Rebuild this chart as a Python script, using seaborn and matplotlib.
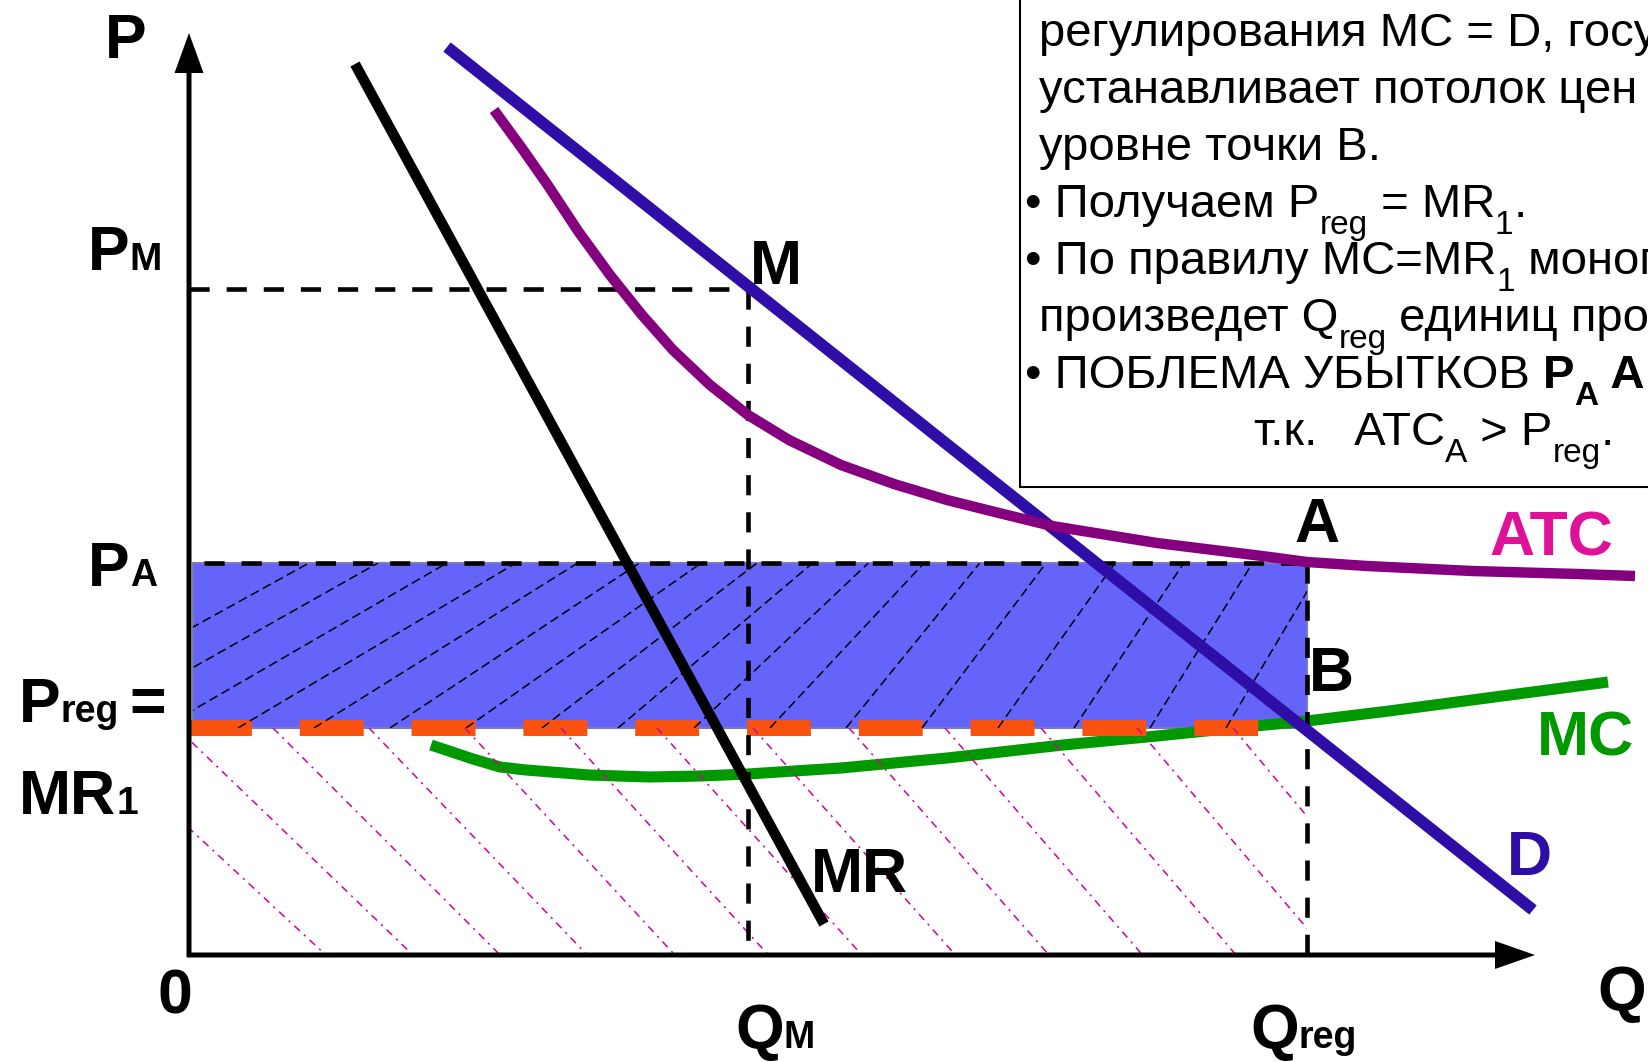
import numpy as np
import matplotlib
matplotlib.use('Agg')
import matplotlib.pyplot as plt
from matplotlib.patches import Rectangle
import seaborn as sns

# Регулирование естественной монополии: MC = D
# единицы графика: 1 = 100 px, начало координат в точке "0"
Q_M, Q_REG = 5.59, 11.18
P_M, P_A, P_REG = 6.66, 3.92, 2.27

D_q = [2.58, 13.44]
D_p = [9.08, 0.45]

MR_q = [1.66, 6.35]
MR_p = [8.91, 0.31]

ATC_q = [3.05, 3.32, 3.58, 3.89, 4.21, 4.53, 4.84, 5.21, 5.59, 6.00, 6.52, 7.05,
         7.58, 8.10, 8.63, 9.68, 10.73, 11.18, 11.78, 12.83, 13.89, 14.46]
ATC_p = [8.45, 8.08, 7.71, 7.24, 6.80, 6.40, 6.05, 5.70, 5.40, 5.15, 4.90, 4.71,
         4.55, 4.42, 4.29, 4.12, 3.99, 3.93, 3.89, 3.84, 3.81, 3.79]

MC_q = [2.42, 2.84, 3.11, 3.37, 4.00, 4.60, 5.11, 5.59, 6.52, 7.58, 8.74, 9.68,
        10.56, 11.18, 12.00, 12.83, 14.19]
MC_p = [2.10, 1.96, 1.88, 1.85, 1.80, 1.78, 1.79, 1.81, 1.87, 1.97, 2.10, 2.19,
        2.28, 2.34, 2.44, 2.55, 2.73]

C_D = '#2f0ea8'
C_ATC = '#84007e'
C_MC = '#009a00'
C_PINK = '#df1199'

sns.set_theme(style='white')
plt.rcParams['font.family'] = ['Liberation Sans', 'DejaVu Sans']

W, H = 1649, 1062
fig = plt.figure(figsize=(W / 100, H / 100), dpi=100)
ax = fig.add_axes([0, 0, 1, 1])
ax.set_xlim(-1.89, 14.60)
ax.set_ylim(-1.07, 9.55)
ax.axis('off')

# прямоугольник убытков
rect = Rectangle((0.04, P_REG), Q_REG - 0.04, P_A - P_REG, fc='#6464fa', ec='#7a7ac4', lw=1.5, zorder=1)
ax.add_patch(rect)
clip_top = Rectangle((0.04, P_REG), Q_REG - 0.04, P_A - P_REG, transform=ax.transData)
clip_low = Rectangle((0.0, 0.0), Q_REG, P_REG, transform=ax.transData)

# штриховка (наклон меняется по ширине, как на исходнике)
hb, hd = [-1.89, 0.49, 2.78, 6.71, 9.88, 11.11], [3.0, 2.78, 2.35, 1.30, 1.00, 0.95]
for b in 0.49 + 0.76 * np.arange(-3, 15):
    t = b + np.interp(b, hb, hd)
    ln, = ax.plot([b, t], [P_REG, P_A], color='black', lw=1.1, dashes=(6, 3), zorder=4)
    ln.set_clip_path(clip_top)

for t in -1.08 + 0.96 * np.arange(13):
    b = t + np.interp(t, [-1.1, 2.7, 10.5], [2.45, 2.1, 1.9])
    ln, = ax.plot([t, b], [P_REG, 0], color='#d4009c', lw=1.1, dashes=(5, 3.6, 1.4, 3.6), zorder=4)
    ln.set_clip_path(clip_low)

# кривые
sns.lineplot(x=MC_q, y=MC_p, sort=False, ax=ax, color=C_MC, linewidth=8.0,
             solid_capstyle='butt', solid_joinstyle='round', zorder=2)
ax.plot([-0.01, 10.71], [P_REG, P_REG], color='#f9520e', lw=11.5, dashes=(4, 3),
        dash_capstyle='butt', zorder=3)

dash = dict(color='black', lw=3.3, dashes=(4.4, 3.7), dash_capstyle='butt', zorder=4.5)
ax.plot([0, Q_M], [P_M, P_M], **dash)
ax.plot([Q_M, Q_M], [P_M, 0], **dash)
ax.plot([0.15, Q_REG], [P_A, P_A], **dash)
ax.plot([Q_REG, Q_REG], [P_A, 0], **dash)

sns.lineplot(x=D_q, y=D_p, sort=False, ax=ax, color=C_D, linewidth=8.5, solid_capstyle='butt', zorder=5)
sns.lineplot(x=MR_q, y=MR_p, sort=False, ax=ax, color='black', linewidth=7.5, solid_capstyle='butt', zorder=5)
sns.lineplot(x=ATC_q, y=ATC_p, sort=False, ax=ax, color=C_ATC, linewidth=7.5,
             solid_capstyle='butt', solid_joinstyle='round', zorder=5.5)

# оси
ax.arrow(0, -0.02, 0, 9.24, width=0.05, head_width=0.29, head_length=0.40,
         length_includes_head=True, fc='black', ec='none', zorder=6)
ax.arrow(-0.02, 0, 13.48, 0, width=0.05, head_width=0.28, head_length=0.40,
         length_includes_head=True, fc='black', ec='none', zorder=6)

# рамка с текстом
ax.add_patch(Rectangle((8.31, 4.68), 7, 6, fc='white', ec='black', lw=1.5, zorder=6))

R = fig.canvas.get_renderer()


def width(s, size, weight):
    t1 = fig.text(0, 0, s + '|', fontsize=size, fontweight=weight)
    t2 = fig.text(0, 0, '|', fontsize=size, fontweight=weight)
    w = t1.get_window_extent(R).width - t2.get_window_extent(R).width
    t1.remove()
    t2.remove()
    return w


def runs(x, y, parts, color='black'):
    # x, y - пиксели исходной картинки (левый край, базовая линия)
    for s, size, weight, dy in parts:
        fig.text(x / W, 1 - (y + dy) / H, s, fontsize=size, fontweight=weight,
                 color=color, va='baseline', ha='left', zorder=8)
        x += width(s, size, weight)


B_ = 'bold'
runs(105, 58, [('P', 45, B_, 0)])
runs(88, 270, [('P', 45, B_, 0), ('M', 28, B_, 0)])
runs(88, 586, [('P', 45, B_, 0), ('A', 27, B_, 0)])
runs(19, 722, [('P', 45, B_, 0), ('reg', 27, B_, 0)])
runs(129, 722, [('=', 45, B_, 0)])
runs(19, 814, [('MR', 45, B_, 0), ('1', 28, B_, 0)])
runs(158, 1014, [('0', 45, B_, 0)])
runs(735, 1048, [('Q', 45, B_, 0), ('M', 27, B_, 0)])
runs(1250, 1048, [('Q', 45, B_, 0), ('reg', 27, B_, 0)])
runs(1597, 1010, [('Q', 45, B_, 0)])
runs(750, 284, [('M', 45, B_, 0)])
runs(1294, 542, [('A', 45, B_, 0)])
runs(1309, 691, [('B', 45, B_, 0)])
runs(811, 892, [('MR', 45, B_, 0)])
runs(1489, 555, [('ATC', 45, B_, 0)], color=C_PINK)
runs(1537, 755, [('MC', 45, B_, 0)], color=C_MC)
runs(1507, 875, [('D', 45, B_, 0)], color=C_D)

N, S, SUB = 'normal', 34, 24
runs(1039, 46, [('регулирования МС = D, государство', S, N, 0)])
runs(1039, 103, [('устанавливает потолок цен на', S, N, 0)])
runs(1039, 160, [('уровне точки В.', S, N, 0)])
runs(1025, 217, [('• Получаем P', S, N, 0), ('reg', SUB, N, 17), (' = MR', S, N, 0),
                 ('1', SUB, N, 17), ('.', S, N, 0)])
runs(1025, 274, [('• По правилу МС=MR', S, N, 0), ('1', SUB, N, 17), (' монополист', S, N, 0)])
runs(1039, 331, [('произведет Q', S, N, 0), ('reg', SUB, N, 17), (' единиц продукции', S, N, 0)])
runs(1025, 388, [('• ПОБЛЕМА УБЫТКОВ ', S, N, 0), ('P', S, B_, 0), ('A', SUB, B_, 17),
                 (' A B P', S, B_, 0), ('reg', SUB, B_, 17)])
runs(1254, 445, [('т.к.   ATC', S, N, 0), ('A', SUB, N, 17), (' > P', S, N, 0),
                 ('reg', SUB, N, 17), ('.', S, N, 0)])

fig.savefig('out.png', dpi=100)
